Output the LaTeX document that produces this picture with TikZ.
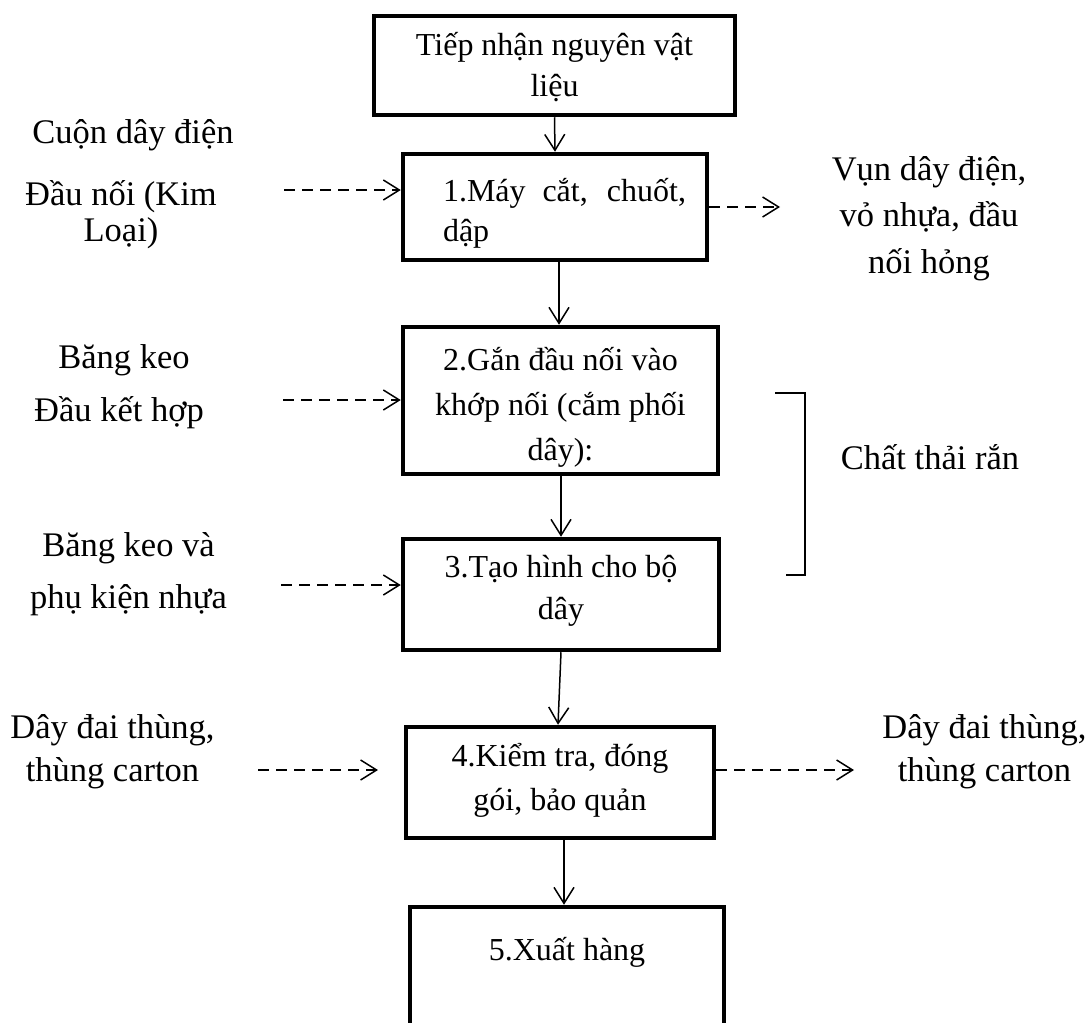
\documentclass[tikz,border=0pt]{standalone}
\usepackage{fontspec}
\setmainfont{Liberation Serif}
\usetikzlibrary{arrows.meta}
\begin{document}
\begin{tikzpicture}[x=1pt,y=-1pt,
  box/.style={draw,line width=4.5pt,inner sep=0pt},
  txt/.style={inner sep=0pt,align=center},
  side/.style={inner sep=0pt,align=center},
  arr/.style={line width=1.5pt,-{Straight Barb[length=16pt,width=20pt,line width=1.5pt]}},
  darr/.style={arr,dash pattern=on 11pt off 7pt},
  brk/.style={line width=1.5pt}]
\path[use as bounding box] (0,0) rectangle (1088,1023);
\clip (0,0) rectangle (1088,1023);

% process boxes
\node[box,minimum width=361pt,minimum height=99pt] (b0) at (554.5,65.5) {};
\node[box,minimum width=304pt,minimum height=106pt] (b1) at (555,207) {};
\node[box,minimum width=315pt,minimum height=147pt] (b2) at (560.5,400.5) {};
\node[box,minimum width=316pt,minimum height=111pt] (b3) at (561,594.5) {};
\node[box,minimum width=308pt,minimum height=111pt] (b4) at (560,782.5) {};
\node[box,minimum width=314pt,minimum height=153pt] (b5) at (567,983.5) {};

% box texts
\node[txt,font=\fontsize{32}{41}\selectfont] (t0) at (554.5,67.5) {Tiếp nhận nguyên vật\\liệu};
\node[txt,align=left,font=\fontsize{32}{40}\selectfont] (t1) at (564.5,213) {\makebox[243pt][s]{1.Máy cắt, chuốt,}\\dập};
\node[txt,font=\fontsize{32}{45}\selectfont] (t2) at (560.5,407) {2.Gắn đầu nối vào\\khớp nối (cắm phối\\dây):};
\node[txt,font=\fontsize{32}{42}\selectfont] (t3) at (561,591) {3.Tạo hình cho bộ\\dây};
\node[txt,font=\fontsize{32}{44}\selectfont] (t4) at (560,780) {4.Kiểm tra, đóng\\gói, bảo quản};
\node[txt,font=\fontsize{32}{40}\selectfont] (t5) at (567,952) {5.Xuất hàng};

% side texts
\node[side,font=\fontsize{34.5}{46}\selectfont] (s1) at (133,135) {Cuộn dây điện};
\node[side,font=\fontsize{34.5}{36}\selectfont] (s2) at (121,215) {Đầu nối (Kim\\Loại)};
\node[side,font=\fontsize{34.5}{46}\selectfont] (s3) at (124,360) {Băng keo};
\node[side,font=\fontsize{34.5}{46}\selectfont] (s4) at (119,413) {Đầu kết hợp};
\node[side,font=\fontsize{34.5}{52}\selectfont] (s5) at (128.5,574) {Băng keo và\\phụ kiện nhựa};
\node[side,font=\fontsize{34.5}{43}\selectfont] (s6) at (112.5,751.5) {Dây đai thùng,\\thùng carton};
\node[side,font=\fontsize{34.5}{46.5}\selectfont] (r1) at (929,218.5) {Vụn dây điện,\\vỏ nhựa, đầu\\nối hỏng};
\node[side,font=\fontsize{34.5}{46}\selectfont] (r2) at (930,457) {Chất thải rắn};
\node[side,font=\fontsize{34.5}{43}\selectfont] (r3) at (984.5,751.5) {Dây đai thùng,\\thùng carton};

% main flow arrows
\coordinate (xa) at (559,0);
\coordinate (xb) at (561,0);
\coordinate (xc) at (558,0);
\coordinate (xd) at (564,0);
\draw[arr] (b0.south) -- (b1.north);
\draw[arr] (b1.south -| xa) -- (b2.north -| xa);
\draw[arr] (b2.south -| xb) -- (b3.north -| xb);
\draw[arr] (b3.south -| xb) -- (b4.north -| xc);
\draw[arr] (b4.south -| xd) -- (b5.north -| xd);

% input / output dashed arrows
\coordinate (i1) at (284,190);
\coordinate (i2) at (283,400);
\coordinate (i3) at (281,585);
\coordinate (i4) at (258,770);
\coordinate (i4e) at (378,770);
\coordinate (o1) at (780,207);
\coordinate (o4) at (854,770);
\draw[darr] (i1) -- (i1 -| b1.west);
\draw[darr] (i2) -- (i2 -| b2.west);
\draw[darr] (i3) -- (i3 -| b3.west);
\draw[darr] (i4) -- (i4e);
\draw[darr] (o1 -| b1.east) -- (o1);
\draw[darr] (o4 -| b4.east) -- (o4);

% bracket
\coordinate (k1) at (775,393);
\coordinate (k2) at (805,393);
\coordinate (k3) at (805,575);
\coordinate (k4) at (786,575);
\draw[brk] (k1) -- (k2) -- (k3) -- (k4);
\end{tikzpicture}
\end{document}
